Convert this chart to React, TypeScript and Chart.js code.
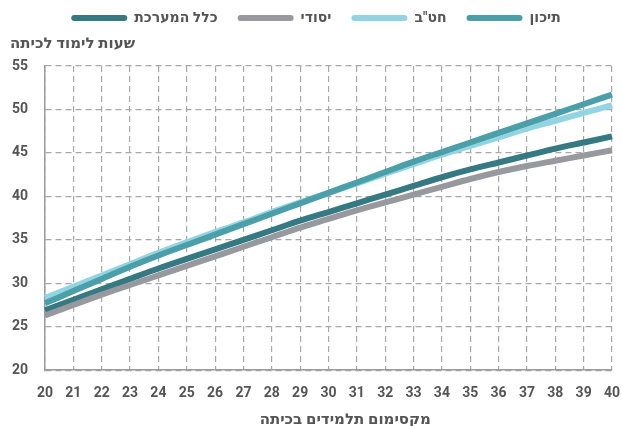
import React, { useEffect, useRef } from "react";
import { Chart, registerables } from "chart.js";

Chart.register(...registerables);

const categories = [20, 21, 22, 23, 24, 25, 26, 27, 28, 29, 30, 31, 32, 33, 34, 35, 36, 37, 38, 39, 40];
const tichon = [27.7, 29.1, 30.5, 31.9, 33.2, 34.4, 35.6, 36.8, 38.0, 39.2, 40.4, 41.6, 42.8, 44.0, 45.1, 46.2, 47.3, 48.4, 49.5, 50.6, 51.7];
const chatav = [28.3, 29.6, 30.9, 32.2, 33.5, 34.7, 35.9, 37.0, 38.2, 39.3, 40.4, 41.5, 42.6, 43.7, 44.8, 45.8, 46.8, 47.8, 48.7, 49.6, 50.5];
const yesodi = [26.3, 27.5, 28.7, 29.8, 30.9, 32.0, 33.1, 34.2, 35.3, 36.4, 37.4, 38.4, 39.3, 40.2, 41.1, 42.0, 42.8, 43.5, 44.1, 44.7, 45.3];
const overall = [26.9, 28.1, 29.3, 30.5, 31.7, 32.8, 33.9, 35.0, 36.1, 37.2, 38.2, 39.2, 40.2, 41.2, 42.2, 43.1, 43.9, 44.7, 45.5, 46.2, 46.9];
const seriesNames = ["תיכון", 'חט"ב', "יסודי", "כלל המערכת"];
const seriesColors = ["#4a9fa9", "#93d4e2", "#98999e", "#357982"];
const yTitle = "שעות לימוד לכיתה";
const xTitle = "מקסימום תלמידים בכיתה";

const FONT = "Roboto, 'DejaVu Sans', sans-serif";

export default function App() {
  const ref = useRef<HTMLCanvasElement | null>(null);
  useEffect(() => {
    document.body.style.margin = "0";
    const values = [tichon, chatav, yesodi, overall];
    const chart = new Chart(ref.current!, {
      type: "line",
      data: {
        labels: categories,
        datasets: values.map((v, i) => ({
          label: seriesNames[i],
          data: v,
          borderColor: seriesColors[i],
          backgroundColor: seriesColors[i],
          borderWidth: 6,
          pointRadius: 0,
          tension: 0.3,
          fill: false,
        })),
      },
      options: {
        animation: false,
        responsive: false,
        maintainAspectRatio: false,
        layout: { padding: { left: 10, right: 0, top: -9, bottom: -3 } },
        plugins: {
          legend: {
            position: "top",
            reverse: true,
            weight: 3000,
            labels: {
              boxWidth: 56,
              boxHeight: 6,
              useBorderRadius: true,
              borderRadius: 3,
              padding: 20,
              color: "#555",
              font: { family: FONT, size: 14, weight: "bold" },
              generateLabels: (c: any) => {
                const items = Chart.defaults.plugins.legend.labels.generateLabels(c);
                return items.map((it: any) => ({ ...it, lineWidth: 0, strokeStyle: "transparent" }));
              },
            },
          } as any,
          title: {
            display: true,
            text: yTitle,
            align: "start",
            color: "#555",
            font: { family: FONT, size: 15, weight: "bold" },
            padding: { top: 0, bottom: 13 },
          },
          tooltip: { enabled: false },
        },
        scales: {
          x: {
            type: "category",
            offset: false,
            grid: { color: "#a8a8a8", lineWidth: 1.2, drawTicks: false },
            border: { display: true, color: "#9a9a9a", width: 1.5, dash: [6, 4] } as any,
            afterFit: (s: any) => { s.paddingRight = 10; },
            ticks: {
              color: "#555",
              padding: 15,
              maxRotation: 0,
              autoSkip: false,
              font: { family: FONT, size: 14, weight: "bold" },
            },
            title: {
              display: true,
              text: "\u00A0".repeat(9) + xTitle,
              color: "#555",
              padding: { top: -6, bottom: 0 },
              font: { family: FONT, size: 15, weight: "bold" },
            },
          },
          y: {
            min: 20,
            max: 55,
            grid: { color: "#a8a8a8", lineWidth: 1.2, drawTicks: false },
            border: { display: true, color: "#9a9a9a", width: 1.5, dash: [6, 4] } as any,
            afterFit: (s: any) => { s.width = 35; },
            ticks: {
              stepSize: 5,
              color: "#555",
              padding: 17,
              font: { family: FONT, size: 14, weight: "bold" },
            },
          },
        },
      } as any,
      plugins: [
        {
          id: "legendShift",
          afterUpdate: (c: any) => {
            const lg = c.legend;
            if (lg && lg.legendHitBoxes) {
              lg.legendHitBoxes.forEach((h: any) => { h.left += 14; });
            }
          },
        },
      ],
    });
    return () => chart.destroy();
  }, []);
  return (
    <div style={{ width: 622, height: 426 }}>
      <canvas ref={ref} width={622} height={426} style={{ width: 622, height: 426 }} />
    </div>
  );
}
